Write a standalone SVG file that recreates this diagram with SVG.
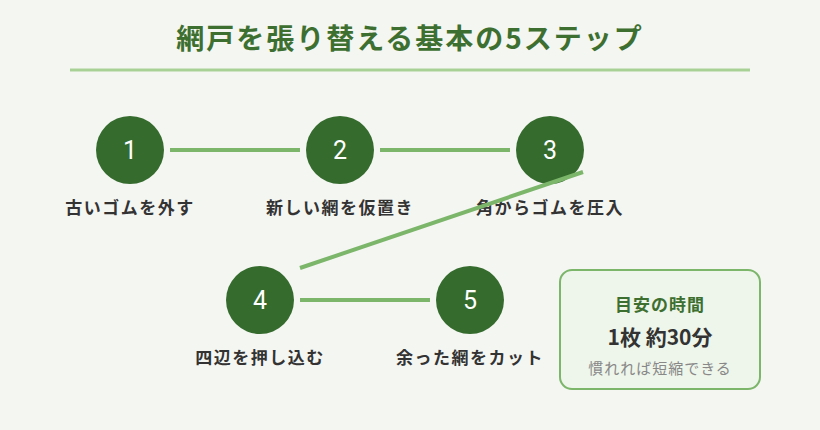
<svg xmlns="http://www.w3.org/2000/svg" width="820" height="430" viewBox="0 0 820 430">
  <style>
    .title { font-family: "Noto Sans CJK JP", "Noto Sans", sans-serif; font-size: 28px; font-weight: 700; fill: #3d7030; letter-spacing: 2px; }
    .step circle { fill: #356b2d; }
    .num { font-family: Roboto, "Noto Sans", sans-serif; font-size: 25px; font-weight: 400; fill: #ffffff; }
    .label { font-family: "Noto Sans CJK JP", "Noto Sans", sans-serif; font-size: 17px; font-weight: 700; fill: #333333; letter-spacing: 1.5px; }
    .conn line { stroke: #7cb66a; stroke-width: 4; }
    .box-title { font-family: "Noto Sans CJK JP", sans-serif; font-size: 17px; font-weight: 700; fill: #3d7030; letter-spacing: 1px; }
    .box-main { font-family: "Noto Sans CJK JP", sans-serif; font-size: 21px; font-weight: 700; fill: #333333; }
    .box-note { font-family: "Noto Sans CJK JP", sans-serif; font-size: 15px; fill: #888888; letter-spacing: 1px; }
  </style>
  <rect width="820" height="430" fill="#f4f6f2"/>

  <text class="title" x="410" y="49" text-anchor="middle">網戸を張り替える基本の5ステップ</text>
  <line x1="70" y1="70" x2="750" y2="70" stroke="#a8d196" stroke-width="3"/>

  <g id="step1" class="step">
    <circle cx="130" cy="150" r="34"/>
    <text class="num" x="130" y="159" text-anchor="middle">1</text>
    <text class="label" x="130" y="214" text-anchor="middle">古いゴムを外す</text>
  </g>
  <g id="step2" class="step">
    <circle cx="340" cy="150" r="34"/>
    <text class="num" x="340" y="159" text-anchor="middle">2</text>
    <text class="label" x="340" y="214" text-anchor="middle">新しい網を仮置き</text>
  </g>
  <g id="step3" class="step">
    <circle cx="550" cy="150" r="34"/>
    <text class="num" x="550" y="159" text-anchor="middle">3</text>
    <text class="label" x="550" y="214" text-anchor="middle">角からゴムを圧入</text>
  </g>
  <g id="step4" class="step">
    <circle cx="260" cy="300" r="34"/>
    <text class="num" x="260" y="309" text-anchor="middle">4</text>
    <text class="label" x="260" y="364" text-anchor="middle">四辺を押し込む</text>
  </g>
  <g id="step5" class="step">
    <circle cx="470" cy="300" r="34"/>
    <text class="num" x="470" y="309" text-anchor="middle">5</text>
    <text class="label" x="470" y="364" text-anchor="middle">余った網をカット</text>
  </g>

  <g id="connectors" class="conn">
    <line x1="170" y1="150" x2="300" y2="150"/>
    <line x1="380" y1="150" x2="510" y2="150"/>
    <line x1="583" y1="172" x2="300" y2="268"/>
    <line x1="300" y1="300" x2="430" y2="300"/>
  </g>

  <g id="time-box">
    <rect x="560" y="270" width="200" height="119" rx="12" fill="#eef5ea" stroke="#7cb66a" stroke-width="2"/>
    <text class="box-title" x="660" y="311" text-anchor="middle">目安の時間</text>
    <text class="box-main" x="660" y="345" text-anchor="middle">1枚 約30分</text>
    <text class="box-note" x="660" y="374" text-anchor="middle">慣れれば短縮できる</text>
  </g>
</svg>
